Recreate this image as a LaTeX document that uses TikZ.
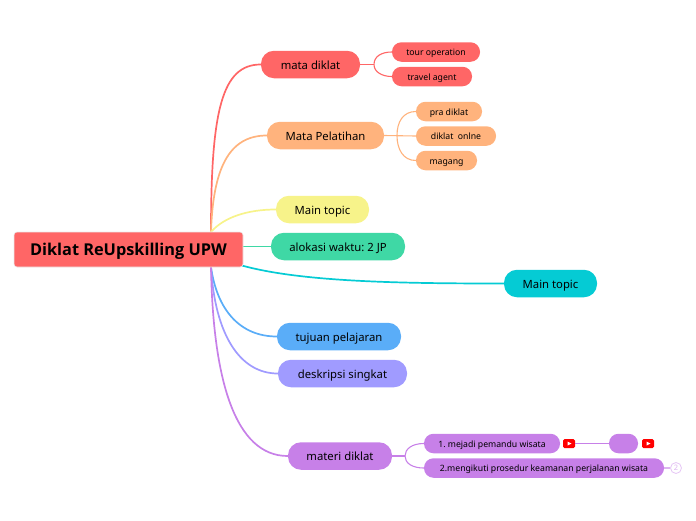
\documentclass[tikz,border=0pt]{standalone}
\usepackage{fontspec}
\setmainfont{Noto Sans}
\newfontfamily\titlefont{Open Sans}
\definecolor{cred}{HTML}{FF6666}
\definecolor{corange}{HTML}{FFB37D}
\definecolor{cyellow}{HTML}{F7F38A}
\definecolor{cgreen}{HTML}{3FD8A5}
\definecolor{ccyan}{HTML}{05CBD4}
\definecolor{cblue}{HTML}{5AADF8}
\definecolor{cpurple}{HTML}{A09BFF}
\definecolor{cviolet}{HTML}{C780E8}
\usetikzlibrary{calc}
\tikzset{
  x=1pt,y=-1pt,
  topic/.style={rounded corners=13pt,minimum height=27.5pt,inner sep=0pt,text height=9.5pt,text depth=0pt,font=\fontsize{11.3}{13}\selectfont,text=black},
  sub/.style={rounded corners=9.5pt,minimum height=19.5pt,inner sep=0pt,text height=7.4pt,text depth=0pt,font=\fontsize{8.7}{11}\selectfont,text=black},
  link/.style={line width=1.7pt},
  sublink/.style={line width=1.1pt},
  yt/.style={fill=red,rounded corners=1.5pt,minimum width=12pt,minimum height=9pt,inner sep=0pt}
}
\newcommand{\ytplay}[1]{\fill[white] ($(#1)+(-1.5,-2)$) -- ($(#1)+(2.5,0)$) -- ($(#1)+(-1.5,2)$) -- cycle;}
\begin{document}
\frenchspacing
\begin{tikzpicture}
\useasboundingbox (0,0) rectangle (696,520);
\coordinate (rt) at (211,232);
\coordinate (rb) at (211,267);
\node[topic,fill=cred,minimum width=99pt] (mata) at (310.5,64.5) {mata diklat};
\node[sub,fill=cred,minimum width=88pt] (tour) at (436,52) {tour operation};
\node[sub,fill=cred,minimum width=80pt] (travel) at (432,76.5) {travel agent};
\node[topic,fill=corange,minimum width=117pt] (pel) at (325.5,135.5) {Mata Pelatihan};
\node[sub,fill=corange,minimum width=66pt] (pra) at (449,111.5) {pra diklat};
\node[sub,fill=corange,minimum width=80pt] (onl) at (456,136) {diklat\ \ onlne};
\node[sub,fill=corange,minimum width=61pt] (mag) at (446.5,160.5) {magang};
\node[topic,fill=cyellow,minimum width=93pt] (mt1) at (322.5,209.5) {Main topic};
\node[topic,fill=cgreen,minimum width=134pt] (alo) at (338,246.5) {alokasi waktu: 2 JP};
\node[topic,fill=ccyan,minimum width=93pt] (mt2) at (550.5,283.5) {Main topic};
\node[topic,fill=cblue,minimum width=124pt] (tuj) at (339,336.5) {tujuan pelajaran};
\node[topic,fill=cpurple,minimum width=129pt] (des) at (342.5,373.5) {deskripsi singkat};
\node[topic,fill=cviolet,minimum width=104pt] (mat) at (340,456) {materi diklat};
\node[sub,fill=cviolet,minimum width=136pt] (s1) at (492,443.5) {1. mejadi pemandu wisata};
\node[sub,fill=cviolet,minimum width=240pt] (s2) at (544,468) {2.mengikuti prosedur keamanan perjalanan wisata};
\node[sub,fill=cviolet,minimum width=29pt] (blank) at (623.5,443.5) {};
\node[yt] (y1) at (569,443.5) {};
\node[yt] (y2) at (648,443.5) {};
\ytplay{y1}
\ytplay{y2}
\node[circle,draw=cviolet!45,fill=white,line width=.8pt,minimum size=11pt,inner sep=0pt,text=cviolet!60,font=\fontsize{7.5}{8}\selectfont] (cnt) at (676,468) {2};
% main connectors
\draw[link,cred] (rt) .. controls (211,110) and (222,64.5) .. (mata.west);
\draw[link,corange] (rt) .. controls (213,170) and (228,135.5) .. (pel.west);
\draw[link,cyellow] (rt) .. controls (224,217) and (248,209.5) .. (mt1.west);
\draw[link,cgreen] (240,246.5) -- (alo.west);
\draw[link,ccyan] (240,265) .. controls (300,282) and (400,283.5) .. (mt2.west);
\draw[link,cblue] (rb) .. controls (217,310) and (240,336.5) .. (tuj.west);
\draw[link,cpurple] (rb) .. controls (215,335) and (240,373.5) .. (des.west);
\draw[link,cviolet] (rb) .. controls (213,380) and (235,456) .. (mat.west);
\node[fill=cred,draw=black!8,line width=.6pt,rounded corners=3pt,minimum width=229pt,minimum height=35pt,inner sep=0pt,text height=11.8pt,text depth=0pt,font=\titlefont\bfseries\fontsize{16.3}{18}\selectfont] (root) at (128.5,249.5) {Diklat ReUpskilling UPW};
% sub connectors
\coordinate (j1) at (374,64.5);
\draw[sublink,cred] (mata.east) -- (j1);
\draw[sublink,cred] (tour.west) .. controls (382,52) and (374,56) .. (j1) .. controls (374,72) and (382,76.5) .. (travel.west);
\coordinate (j2) at (397,135.5);
\draw[sublink,corange] (pel.east) -- (onl.west);
\draw[sublink,corange] (pra.west) .. controls (403,111.5) and (397,122) .. (j2) .. controls (397,149) and (403,160.5) .. (mag.west);
\coordinate (j3) at (405,456);
\draw[sublink,cviolet] (mat.east) -- (j3);
\draw[sublink,cviolet] (s1.west) .. controls (412,443.5) and (405,449) .. (j3) .. controls (405,463) and (412,468) .. (s2.west);
\draw[sublink,cviolet] (y1.east) -- (blank.west);
\draw[sublink,cviolet!60] (s2.east) -- (cnt.west);
\end{tikzpicture}
\end{document}
